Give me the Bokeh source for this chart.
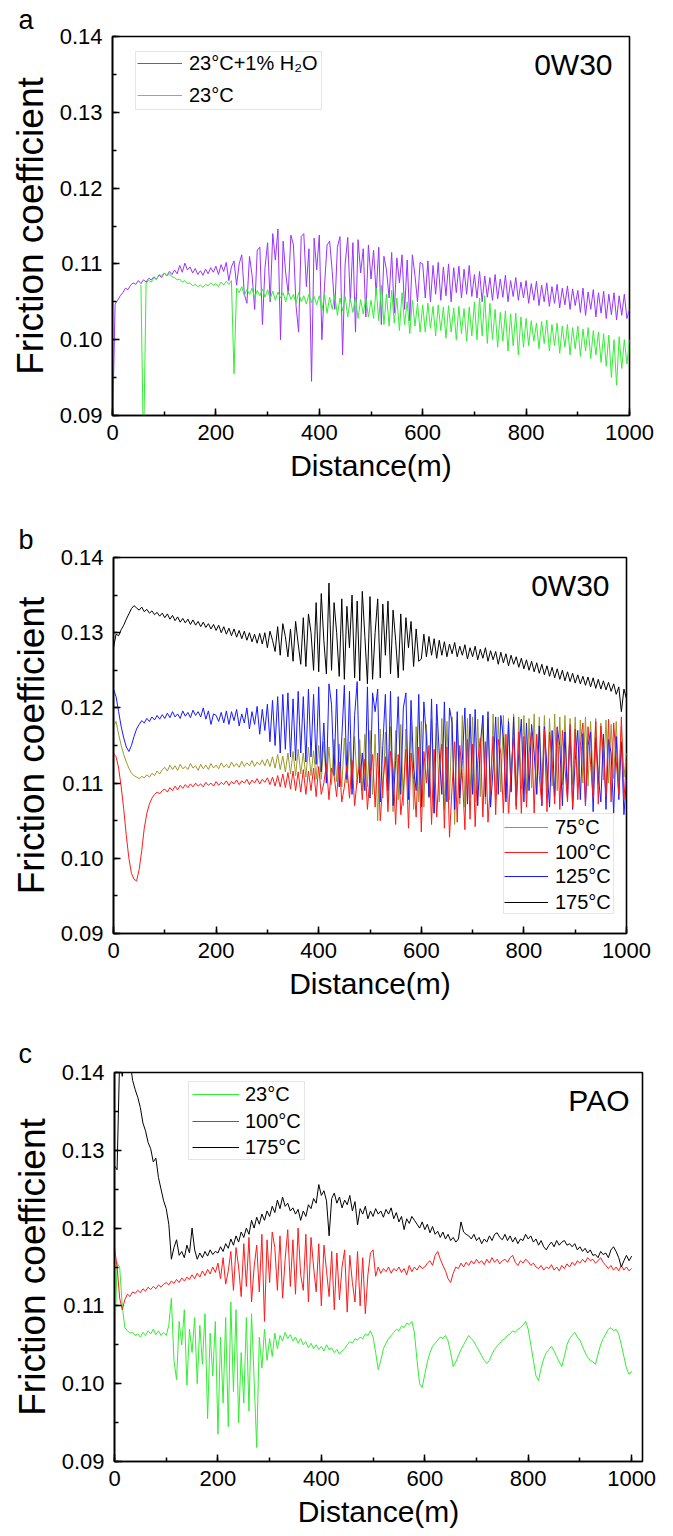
import math
from bokeh.plotting import figure
from bokeh.models import (Range1d, SingleIntervalTicker, PrintfTickFormatter,
                          Legend, LegendItem, Label, BoxAnnotation)
from bokeh.embed import file_html
from bokeh.resources import INLINE

FONT = "Liberation Sans"
NAN = float("nan")

# sampling distance grid (m), one value every 5 m
DIST = list(range(0, 1001, 5))

# ---- values in units of 1e-4 (friction coefficient x 10000), 20 per row = 100 m ----
# Panel a: 0W30
A_H2O = [
    [880, 1047, 1052, 1058, 1062, 1068, 1066, 1072, 1075, 1073, 1078, 1074, 1079, 1076, 1081, 1079, 1083, 1080, 1085, 1082],
    [1088, 1084, 1090, 1086, 1092, 1087, 1098, 1089, 1101, 1092, 1096, 1088, 1094, 1086, 1091, 1085, 1093, 1087, 1095, 1089],
    [1097, 1086, 1099, 1090, 1102, 1078, 1096, 1104, 1072, 1100, 1112, 1060, 1048, 1110, 1085, 1040, 1118, 1122, 1020, 1095],
    [1128, 1050, 1140, 1105, 1146, 1000, 1130, 1088, 1060, 1138, 1125, 1045, 1010, 1136, 1140, 1070, 1120, 945, 1134, 1092],
    [1138, 1000, 1070, 1125, 1130, 1090, 1040, 1122, 1136, 980, 1100, 1135, 1050, 1128, 1010, 1132, 1088, 1120, 1030, 1125],
    [1080, 1118, 1060, 1122, 1020, 1110, 1092, 1055, 1115, 1035, 1108, 1075, 1112, 1040, 1105, 1025, 1112, 1085, 1050, 1102],
    [1100, 1055, 1104, 1050, 1098, 1060, 1102, 1052, 1096, 1058, 1100, 1050, 1095, 1062, 1097, 1055, 1093, 1060, 1098, 1057],
    [1086, 1055, 1090, 1050, 1084, 1056, 1082, 1052, 1086, 1054, 1080, 1056, 1085, 1050, 1078, 1057, 1082, 1052, 1076, 1055],
    [1078, 1048, 1074, 1052, 1077, 1045, 1072, 1050, 1075, 1044, 1070, 1048, 1073, 1042, 1068, 1046, 1071, 1040, 1067, 1045],
    [1065, 1036, 1068, 1032, 1063, 1040, 1066, 1030, 1062, 1035, 1064, 1028, 1060, 1033, 1062, 1026, 1058, 1032, 1060, 1028],
    [1040],
]
A_23 = [
    [NAN, NAN, NAN, NAN, NAN, NAN, NAN, NAN, NAN, NAN, NAN, 1072, 850, 1075, 1078, 1076, 1082, 1079, 1086, 1084],
    [1088, 1085, 1087, 1083, 1082, 1079, 1080, 1076, 1078, 1074, 1075, 1071, 1073, 1070, 1072, 1069, 1073, 1071, 1075, 1072],
    [1074, 1070, 1076, 1072, 1077, 1073, 1078, 955, 1068, 1062, 1070, 1058, 1066, 1060, 1068, 1055, 1065, 1058, 1067, 1056],
    [1066, 1054, 1064, 1052, 1063, 1055, 1062, 1050, 1064, 1053, 1060, 1048, 1062, 1050, 1058, 1047, 1060, 1049, 1057, 1046],
    [1058, 1038, 1060, 1035, 1056, 1040, 1059, 1032, 1055, 1038, 1057, 1030, 1054, 1036, 1056, 1028, 1053, 1034, 1055, 1030],
    [1052, 1028, 1068, 1025, 1072, 1020, 1060, 1018, 1065, 1022, 1055, 1012, 1062, 1020, 1050, 1008, 1052, 1018, 1048, 1010],
    [1046, 1010, 1048, 1015, 1044, 1005, 1046, 1012, 1043, 1002, 1045, 1010, 1042, 1000, 1044, 1008, 1041, 998, 1043, 1005],
    [1050, 1000, 1055, 1005, 1058, 995, 1048, 1000, 1040, 990, 1036, 998, 1038, 985, 1034, 992, 1035, 980, 1030, 990],
    [1028, 992, 1025, 998, 1022, 988, 1024, 995, 1026, 985, 1020, 992, 1022, 982, 1018, 990, 1020, 980, 1016, 988],
    [1018, 978, 1014, 985, 1016, 975, 1012, 980, 1010, 970, 1008, 965, 1006, 950, 1000, 940, 1004, 962, 1000, 968],
    [1000],
]

# Panel b: 0W30 at temperature
B_75 = [
    [1175, 1182, 1165, 1150, 1138, 1128, 1120, 1113, 1110, 1108, 1106, 1109, 1107, 1111, 1108, 1113, 1110, 1116, 1112, 1118],
    [1121, 1116, 1124, 1118, 1123, 1117, 1125, 1119, 1122, 1118, 1126, 1120, 1123, 1117, 1125, 1119, 1124, 1118, 1126, 1120],
    [1124, 1119, 1127, 1121, 1125, 1120, 1128, 1122, 1126, 1121, 1129, 1122, 1127, 1123, 1130, 1122, 1128, 1124, 1131, 1123],
    [1132, 1122, 1135, 1120, 1138, 1118, 1136, 1115, 1140, 1112, 1142, 1110, 1145, 1112, 1140, 1108, 1148, 1110, 1143, 1105],
    [1150, 1105, 1155, 1100, 1148, 1098, 1158, 1102, 1152, 1095, 1160, 1100, 1155, 1092, 1162, 1098, 1158, 1090, 1165, 1095],
    [1170, 1085, 1165, 1050, 1172, 1080, 1168, 1075, 1175, 1062, 1170, 1078, 1178, 1070, 1172, 1080, 1180, 1065, 1175, 1075],
    [1182, 1068, 1178, 1080, 1185, 1060, 1180, 1075, 1186, 1065, 1182, 1078, 1188, 1045, 1184, 1072, 1190, 1068, 1186, 1080],
    [1188, 1075, 1185, 1082, 1190, 1072, 1186, 1085, 1192, 1078, 1188, 1088, 1190, 1080, 1186, 1090, 1192, 1082, 1188, 1092],
    [1190, 1085, 1186, 1094, 1192, 1086, 1188, 1095, 1190, 1088, 1186, 1096, 1192, 1090, 1188, 1098, 1190, 1092, 1186, 1098],
    [1188, 1094, 1184, 1100, 1188, 1096, 1182, 1102, 1186, 1098, 1180, 1104, 1184, 1100, 1178, 1106, 1182, 1102, 1175, 1108],
    [1140],
]
B_100 = [
    [1140, 1135, 1120, 1095, 1065, 1030, 1000, 980, 972, 970, 985, 1010, 1040, 1060, 1072, 1080, 1085, 1088, 1086, 1090],
    [1092, 1088, 1094, 1090, 1096, 1091, 1097, 1093, 1098, 1094, 1099, 1095, 1100, 1096, 1099, 1095, 1101, 1097, 1100, 1096],
    [1102, 1097, 1101, 1098, 1103, 1097, 1102, 1099, 1104, 1098, 1103, 1100, 1105, 1098, 1104, 1100, 1106, 1099, 1105, 1101],
    [1107, 1098, 1108, 1096, 1110, 1095, 1112, 1094, 1114, 1092, 1116, 1090, 1115, 1088, 1118, 1085, 1116, 1090, 1120, 1082],
    [1122, 1085, 1100, 1125, 1078, 1120, 1110, 1082, 1128, 1075, 1095, 1124, 1080, 1130, 1070, 1105, 1126, 1078, 1132, 1065],
    [1110, 1138, 1068, 1140, 1050, 1100, 1135, 1062, 1142, 1120, 1045, 1138, 1058, 1090, 1145, 1040, 1140, 1105, 1055, 1148],
    [1035, 1142, 1100, 1150, 1045, 1145, 1055, 1120, 1152, 1040, 1148, 1028, 1095, 1155, 1048, 1150, 1110, 1038, 1158, 1052],
    [1152, 1042, 1130, 1160, 1055, 1155, 1048, 1100, 1162, 1058, 1158, 1140, 1060, 1165, 1055, 1120, 1160, 1065, 1168, 1058],
    [1162, 1068, 1140, 1170, 1060, 1165, 1110, 1070, 1172, 1062, 1168, 1130, 1072, 1175, 1065, 1170, 1120, 1075, 1178, 1068],
    [1172, 1078, 1150, 1180, 1070, 1175, 1125, 1080, 1182, 1072, 1176, 1140, 1082, 1185, 1075, 1180, 1130, 1085, 1188, 1078],
    [1130],
]
B_125 = [
    [1225, 1215, 1195, 1175, 1160, 1148, 1142, 1150, 1162, 1172, 1178, 1183, 1180, 1186, 1182, 1188, 1184, 1190, 1185, 1191],
    [1186, 1193, 1187, 1195, 1188, 1192, 1186, 1196, 1189, 1194, 1187, 1197, 1190, 1195, 1188, 1200, 1185, 1196, 1178, 1192],
    [1190, 1182, 1194, 1180, 1196, 1178, 1195, 1183, 1198, 1176, 1192, 1180, 1200, 1172, 1195, 1178, 1202, 1165, 1198, 1170],
    [1205, 1155, 1210, 1150, 1215, 1140, 1218, 1145, 1220, 1135, 1212, 1130, 1222, 1140, 1215, 1128, 1225, 1135, 1218, 1125],
    [1228, 1115, 1180, 1100, 1232, 1205, 1110, 1225, 1095, 1160, 1230, 1105, 1222, 1085, 1190, 1235, 1100, 1140, 1090, 1228],
    [1080, 1220, 1195, 1225, 1075, 1150, 1218, 1090, 1222, 1070, 1130, 1215, 1085, 1200, 1220, 1078, 1210, 1120, 1090, 1218],
    [1068, 1208, 1160, 1082, 1212, 1060, 1205, 1140, 1085, 1208, 1075, 1200, 1180, 1065, 1195, 1080, 1130, 1200, 1072, 1192],
    [1085, 1198, 1070, 1150, 1190, 1082, 1195, 1068, 1120, 1188, 1085, 1190, 1160, 1075, 1182, 1088, 1188, 1070, 1140, 1185],
    [1075, 1180, 1090, 1178, 1140, 1085, 1176, 1070, 1175, 1120, 1068, 1170, 1082, 1174, 1150, 1070, 1168, 1080, 1172, 1065],
    [1130, 1170, 1078, 1166, 1070, 1150, 1168, 1062, 1160, 1110, 1075, 1165, 1065, 1158, 1140, 1060, 1162, 1078, 1155, 1058],
    [1105],
]
B_175 = [
    [1280, 1298, 1296, 1304, 1310, 1318, 1325, 1332, 1336, 1333, 1330, 1334, 1328, 1331, 1326, 1329, 1324, 1327, 1322, 1326],
    [1320, 1325, 1318, 1323, 1316, 1321, 1314, 1319, 1313, 1318, 1311, 1317, 1310, 1315, 1308, 1314, 1307, 1312, 1305, 1311],
    [1303, 1310, 1300, 1308, 1298, 1306, 1296, 1305, 1294, 1303, 1292, 1302, 1290, 1300, 1288, 1298, 1286, 1299, 1285, 1300],
    [1280, 1302, 1290, 1275, 1308, 1270, 1312, 1295, 1268, 1305, 1262, 1315, 1285, 1258, 1320, 1255, 1325, 1300, 1250, 1340],
    [1248, 1352, 1290, 1245, 1366, 1250, 1340, 1300, 1242, 1345, 1238, 1335, 1280, 1350, 1240, 1342, 1236, 1355, 1295, 1232],
    [1348, 1238, 1300, 1345, 1240, 1338, 1270, 1342, 1245, 1330, 1290, 1240, 1325, 1250, 1320, 1280, 1315, 1255, 1305, 1262],
    [1265, 1298, 1268, 1295, 1270, 1292, 1266, 1290, 1270, 1288, 1268, 1285, 1272, 1287, 1268, 1282, 1270, 1284, 1265, 1280],
    [1268, 1282, 1264, 1278, 1266, 1280, 1262, 1276, 1264, 1275, 1258, 1274, 1260, 1272, 1256, 1270, 1258, 1268, 1254, 1266],
    [1252, 1264, 1250, 1262, 1248, 1260, 1246, 1258, 1244, 1256, 1242, 1254, 1240, 1252, 1238, 1250, 1236, 1248, 1235, 1246],
    [1233, 1244, 1232, 1242, 1230, 1241, 1228, 1240, 1226, 1238, 1225, 1236, 1224, 1234, 1222, 1232, 1218, 1228, 1195, 1225],
    [1212],
]

# Panel c: PAO
C_23 = [
    [1045, 1155, 1150, 1100, 1072, 1068, 1065, 1066, 1062, 1064, 1060, 1066, 1062, 1068, 1064, 1070, 1063, 1068, 1062, 1066],
    [1062, 1075, 1110, 1030, 1005, 1080, 1050, 1095, 998, 1070, 1040, 1085, 1000, 1075, 1025, 1090, 955, 1065, 1010, 1080],
    [935, 1060, 975, 1085, 945, 1105, 990, 1095, 950, 1040, 975, 1085, 965, 1090, 1005, 918, 1060, 1020, 1070, 1030],
    [1058, 1035, 1065, 1045, 1062, 1055, 1066, 1058, 1063, 1055, 1060, 1052, 1058, 1050, 1054, 1046, 1052, 1045, 1050, 1044],
    [1048, 1042, 1050, 1044, 1046, 1040, 1044, 1038, 1042, 1045, 1050, 1054, 1052, 1058, 1056, 1060, 1058, 1064, 1062, 1068],
    [1060, 1040, 1018, 1030, 1045, 1052, 1058, 1062, 1066, 1070, 1068, 1074, 1072, 1078, 1076, 1080, 1065, 1030, 1000, 995],
    [1012, 1028, 1040, 1048, 1052, 1056, 1060, 1058, 1062, 1055, 1040, 1022, 1028, 1036, 1044, 1050, 1056, 1062, 1058, 1054],
    [1048, 1042, 1036, 1030, 1026, 1030, 1038, 1044, 1048, 1052, 1056, 1058, 1062, 1064, 1068, 1066, 1070, 1072, 1075, 1080],
    [1070, 1050, 1030, 1010, 1004, 1020, 1032, 1040, 1044, 1048, 1042, 1035, 1028, 1022, 1035, 1050, 1058, 1062, 1066, 1060],
    [1056, 1048, 1040, 1034, 1030, 1028, 1025, 1038, 1050, 1058, 1064, 1070, 1072, 1068, 1070, 1064, 1050, 1035, 1020, 1012],
    [1016],
]
C_100 = [
    [1175, 1150, 1110, 1095, 1108, 1115, 1112, 1118, 1116, 1120, 1117, 1122, 1119, 1124, 1121, 1125, 1122, 1127, 1124, 1128],
    [1130, 1127, 1132, 1129, 1134, 1130, 1136, 1132, 1137, 1134, 1140, 1135, 1142, 1137, 1145, 1139, 1147, 1141, 1150, 1143],
    [1155, 1135, 1162, 1128, 1145, 1170, 1120, 1175, 1150, 1112, 1180, 1125, 1188, 1105, 1150, 1178, 1118, 1192, 1080, 1185],
    [1130, 1195, 1175, 1120, 1190, 1110, 1160, 1198, 1125, 1185, 1115, 1200, 1140, 1120, 1192, 1105, 1188, 1150, 1118, 1180],
    [1100, 1178, 1145, 1112, 1170, 1095, 1168, 1108, 1150, 1172, 1092, 1165, 1130, 1105, 1170, 1100, 1162, 1090, 1140, 1168],
    [1172, 1138, 1150, 1142, 1148, 1144, 1150, 1142, 1148, 1145, 1150, 1143, 1148, 1140, 1152, 1144, 1150, 1146, 1152, 1148],
    [1150, 1155, 1158, 1152, 1165, 1170, 1160, 1152, 1145, 1135, 1130, 1142, 1150, 1148, 1155, 1150, 1156, 1152, 1158, 1154],
    [1160, 1155, 1158, 1153, 1160, 1155, 1162, 1156, 1160, 1154, 1158, 1160, 1156, 1162, 1165, 1156, 1152, 1158, 1155, 1160],
    [1157, 1152, 1155, 1150, 1148, 1152, 1146, 1150, 1148, 1153, 1146, 1150, 1145, 1152, 1148, 1154, 1150, 1156, 1152, 1158],
    [1155, 1160, 1156, 1162, 1158, 1160, 1155, 1158, 1162, 1156, 1152, 1148, 1152, 1146, 1150, 1145, 1152, 1146, 1150, 1145],
    [1148],
]
C_175 = [
    [1280, 1275, 1420, 1395, 1425, 1405, 1415, 1390, 1378, 1368, 1355, 1335, 1325, 1310, 1302, 1285, 1290, 1265, 1250, 1235],
    [1225, 1205, 1160, 1175, 1185, 1165, 1170, 1162, 1178, 1168, 1200, 1172, 1160, 1168, 1162, 1170, 1164, 1172, 1166, 1170],
    [1168, 1176, 1170, 1180, 1174, 1186, 1178, 1190, 1182, 1195, 1188, 1200, 1192, 1210, 1200, 1214, 1205, 1218, 1210, 1222],
    [1215, 1228, 1220, 1236, 1225, 1240, 1228, 1232, 1222, 1226, 1218, 1224, 1210, 1222, 1215, 1230, 1225, 1238, 1232, 1256],
    [1242, 1248, 1235, 1190, 1238, 1245, 1232, 1240, 1226, 1236, 1230, 1242, 1222, 1234, 1204, 1225, 1218, 1228, 1212, 1222],
    [1215, 1225, 1218, 1222, 1214, 1224, 1218, 1226, 1212, 1220, 1208, 1215, 1198, 1212, 1206, 1215, 1210, 1205, 1200, 1208],
    [1198, 1205, 1194, 1202, 1192, 1196, 1188, 1195, 1186, 1192, 1184, 1188, 1182, 1186, 1208, 1195, 1192, 1190, 1186, 1192],
    [1184, 1188, 1180, 1186, 1182, 1190, 1184, 1192, 1194, 1188, 1185, 1192, 1184, 1190, 1182, 1188, 1180, 1186, 1184, 1192],
    [1186, 1190, 1182, 1186, 1178, 1184, 1176, 1172, 1178, 1182, 1176, 1184, 1178, 1182, 1184, 1178, 1180, 1176, 1180, 1172],
    [1176, 1170, 1174, 1168, 1172, 1165, 1166, 1162, 1170, 1166, 1168, 1162, 1172, 1176, 1170, 1162, 1150, 1158, 1165, 1158],
    [1164],
]

LABEL_A = ["23°C+1% H₂O", "23°C"]
LABEL_B = ["75°C", "100°C", "125°C", "175°C"]
LABEL_C = ["23°C", "100°C", "175°C"]
X_TICKS = [0, 200, 400, 600, 800, 1000]
Y_TICKS = [0.09, 0.10, 0.11, 0.12, 0.13, 0.14]

W = 665


def cof(rows):
    flat = [v for r in rows for v in r]
    return [v / 10000.0 if not math.isnan(v) else NAN for v in flat]


def panel(height, bl, br, bt, bb, xmax, letter, letter_standoff, tag, tag_dx):
    p = figure(width=W, height=height, x_range=Range1d(0, xmax),
               y_range=Range1d(Y_TICKS[0], Y_TICKS[-1]),
               output_backend="svg", toolbar_location=None,
               min_border_left=bl, min_border_right=br,
               min_border_top=bt, min_border_bottom=bb,
               background_fill_color="white", border_fill_color="white")
    p.title.text = letter
    p.title.align = "left"
    p.title.offset = -(bl - 18)
    p.title.standoff = letter_standoff
    p.title.text_font = FONT
    p.title.text_font_size = "27px"
    p.title.text_font_style = "normal"
    p.title.text_color = "black"
    p.xgrid.visible = False
    p.ygrid.visible = False
    p.outline_line_color = "black"
    p.outline_line_width = 1.6
    p.xaxis.ticker = SingleIntervalTicker(interval=X_TICKS[1] - X_TICKS[0], num_minor_ticks=2)
    p.yaxis.ticker = SingleIntervalTicker(interval=0.01, num_minor_ticks=2)
    p.yaxis.formatter = PrintfTickFormatter(format="%.2f")
    p.xaxis.axis_label = "Distance(m)"
    p.yaxis.axis_label = "Friction coefficient"
    for ax in list(p.xaxis) + list(p.yaxis):
        ax.axis_line_color = "black"
        ax.axis_line_width = 1.6
        ax.major_tick_in = 7
        ax.major_tick_out = 0
        ax.minor_tick_in = 4
        ax.minor_tick_out = 0
        ax.major_tick_line_width = 1.5
        ax.minor_tick_line_width = 1.5
        ax.major_tick_line_color = "black"
        ax.minor_tick_line_color = "black"
        ax.major_label_text_font = FONT
        ax.major_label_text_font_size = "22px"
        ax.major_label_text_color = "black"
        ax.axis_label_text_font = FONT
        ax.axis_label_text_font_style = "normal"
        ax.axis_label_text_color = "black"
    p.xaxis.axis_label_text_font_size = "30px"
    p.yaxis.axis_label_text_font_size = "37px"
    p.xaxis.major_label_standoff = 9
    p.xaxis.axis_label_standoff = 6
    p.yaxis.major_label_standoff = 10
    p.yaxis.axis_label_standoff = 6
    fw = W - bl - br
    fh = height - bt - bb
    p.add_layout(Label(x=fw - tag_dx, y=fh - 28, x_units="screen", y_units="screen", text=tag,
                       text_font=FONT, text_font_size="30px", text_align="right",
                       text_baseline="middle", text_color="black"))
    return p


def boxed_legend(p, items, box, x, centers, glyph_w, standoff):
    """A white box with a grey border, and one single-entry legend per row."""
    left, right, bottom, top = box
    p.add_layout(BoxAnnotation(left=left, right=right, bottom=bottom, top=top,
                               left_units="screen", right_units="screen",
                               bottom_units="screen", top_units="screen",
                               fill_color="white", fill_alpha=1.0,
                               line_color="#a8a8a8", line_width=1))
    for (label, rend), cy in zip(items, centers):
        p.add_layout(Legend(items=[LegendItem(label=label, renderers=[rend])],
                            location=(x, cy - 11.5), orientation="vertical",
                            label_text_font=FONT, label_text_font_size="20px",
                            label_text_color="black",
                            glyph_width=glyph_w, glyph_height=20, label_height=20,
                            label_standoff=standoff, spacing=0, padding=0, margin=0,
                            border_line_color=None, background_fill_alpha=0.0))


# ---- panel a ----
pa = panel(520, 112, 36, 36, 105, 1000, "a", 3, "0W30", 17)
r_h2o = pa.line(DIST, cof(A_H2O), line_color="#9933ff", line_width=1)
r_23 = pa.line(DIST, cof(A_23), line_color="#33ee33", line_width=1)
boxed_legend(pa, [(LABEL_A[0], r_h2o), (LABEL_A[1], r_23)],
             (23, 209, 306, 364), 25, [352, 320], 45, 7)

# ---- panel b ----
pb = panel(512, 113, 39, 37, 99, 1000, "b", 5, "0W30", 17)
r75 = pb.line(DIST, cof(B_75), line_color="#9a9a2a", line_width=1)
r125 = pb.line(DIST, cof(B_125), line_color="#1a1aff", line_width=1)
r100 = pb.line(DIST, cof(B_100), line_color="#ff1a1a", line_width=1)
r175 = pb.line(DIST, cof(B_175), line_color="#000000", line_width=1)
boxed_legend(pb, [(LABEL_B[0], r75), (LABEL_B[1], r100), (LABEL_B[2], r125), (LABEL_B[3], r175)],
             (390, 500, 20, 120), 391, [106, 81, 57, 31], 44, 7)

# ---- panel c ----
pc = panel(504, 114, 23, 40, 75, 1021, "c", 8, "PAO", 13)
c23 = pc.line(DIST, cof(C_23), line_color="#33ee33", line_width=1)
c100 = pc.line(DIST, cof(C_100), line_color="#ff1a1a", line_width=1)
c175 = pc.line(DIST, cof(C_175), line_color="#000000", line_width=1)
boxed_legend(pc, [(LABEL_C[0], c23), (LABEL_C[1], c100), (LABEL_C[2], c175)],
             (74, 190, 302, 380), 78, [367, 340, 314], 47, 6)

open("out.html", "w").write(file_html([pa, pb, pc], INLINE))
